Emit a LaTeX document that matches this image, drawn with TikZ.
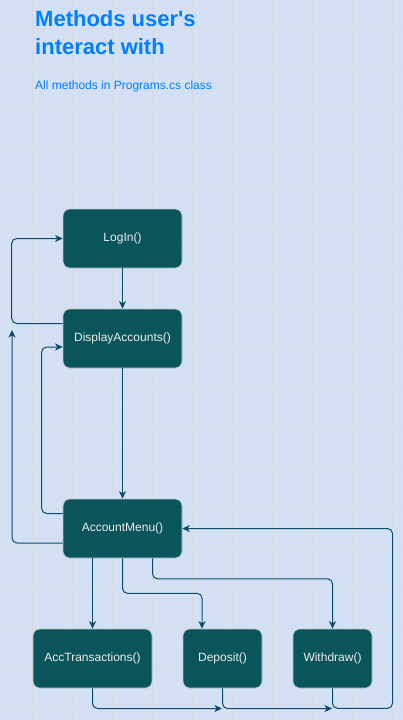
\documentclass[tikz,border=0pt]{standalone}
\usepackage{fontspec}
\setmainfont{Liberation Sans}
\usetikzlibrary{arrows.meta,calc}
\definecolor{bg}{HTML}{D4E1F5}
\definecolor{gridmaj}{HTML}{D9DADF}
\definecolor{gridmin}{HTML}{D1DEF2}
\definecolor{boxfill}{HTML}{09555B}
\definecolor{boxline}{HTML}{BAC8D3}
\definecolor{boxtext}{HTML}{EEEEEE}
\definecolor{edge}{HTML}{0B4D6A}
\definecolor{titleblue}{HTML}{007FFF}
\begin{document}
\begin{tikzpicture}[x=1pt,y=-1pt,
  method/.style={draw=boxline, fill=boxfill, text=boxtext, rounded corners=7pt,
    minimum height=59pt, inner sep=0pt, font=\fontsize{12}{14}\selectfont, line width=0.6pt},
  conn/.style={draw=edge, line width=1pt, rounded corners=5pt,
    -{Stealth[length=7.5pt,width=7pt,inset=2pt]}}]
\useasboundingbox (0,0) rectangle (402,720);
\fill[bg] (0,0) rectangle (402,720);
\foreach \x in {2,12,...,402} \draw[gridmin,line width=0.4pt] (\x,0) -- (\x,720);
\foreach \y in {8,18,...,718} \draw[gridmin,line width=0.4pt] (0,\y) -- (402,\y);
\foreach \x in {32,72,...,392} \draw[gridmaj,line width=1pt] (\x,0) -- (\x,720);
\foreach \y in {28,68,...,708} \draw[gridmaj,line width=1pt] (0,\y) -- (402,\y);

\node[anchor=north west, inner sep=0pt, align=left, text=titleblue,
  font=\fontsize{22}{27.6}\selectfont\bfseries] (title) at (35,10.5) {Methods user\textquotesingle s\\interact with};
\node[anchor=base west, inner sep=0pt, text=titleblue, font=\fontsize{12}{14}\selectfont] (sub) at (35,89.3) {All methods in Programs.cs class};

\node[method, minimum width=119pt] (login) at (122.5,238.5) {LogIn()};
\node[method, minimum width=119pt] (disp) at (122.5,338.5) {DisplayAccounts()};
\node[method, minimum width=119pt] (menu) at (122.5,528.5) {AccountMenu()};
\node[method, minimum width=119pt] (acc) at (92.5,658.5) {AccTransactions()};
\node[method, minimum width=79pt] (dep) at (222.5,658.5) {Deposit()};
\node[method, minimum width=79pt] (wd) at (332.5,658.5) {Withdraw()};

\coordinate (up) at (12,330);
\coordinate (e1) at (222,708.5);
\coordinate (e2) at (332,708.5);

\draw[conn] (login.south) -- (disp.north);
\draw[conn] ($(disp.west)+(0,-15)$) -- ++(-51,0) |- (login.west);
\draw[conn] ($(menu.west)+(0,14.5)$) -| (up);
\draw[conn] ($(menu.west)+(0,-15)$) -- ++(-21,0) |- ($(disp.west)+(0,8.5)$);
\draw[conn] (disp.south) -- (menu.north);
\draw[conn] ($(menu.south)+(-30,0)$) -- (acc.north);
\draw[conn] (menu.south) -- ++(0,35) -| ($(dep.north)+(-20.5,0)$);
\draw[conn] ($(menu.south)+(30,0)$) -- ++(0,20.5) -| (wd.north);
\draw[conn] (acc.south) |- (e1);
\draw[conn] (dep.south) |- (e2);
\draw[conn] (wd.south) -- ++(0,20) -- ++(60,0) |- (menu.east);
\end{tikzpicture}
\end{document}
